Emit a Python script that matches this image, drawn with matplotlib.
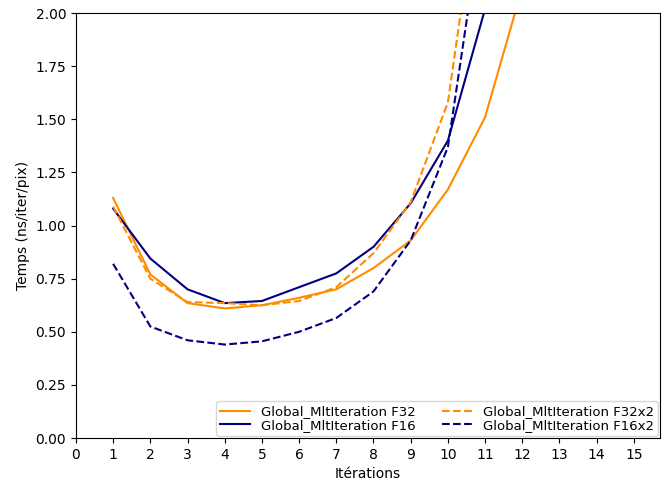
import matplotlib
matplotlib.use("Agg")
import matplotlib.pyplot as plt

iterations = list(range(1, 16))

f32 = [1.13, 0.77, 0.635, 0.61, 0.625, 0.66, 0.70, 0.80, 0.93, 1.17, 1.51, 2.12, 2.9, 4.0, 5.5]
f16 = [1.08, 0.845, 0.70, 0.635, 0.645, 0.71, 0.775, 0.90, 1.105, 1.40, 2.02, 2.9, 4.1, 5.8, 8.0]
f32x2 = [1.09, 0.75, 0.64, 0.635, 0.625, 0.645, 0.71, 0.87, 1.11, 1.58, 2.8, 4.3, 6.2, 8.8, 12.0]
f16x2 = [0.82, 0.525, 0.46, 0.44, 0.455, 0.50, 0.565, 0.69, 0.93, 1.37, 2.55, 3.9, 5.8, 8.3, 11.5]

fig, ax = plt.subplots(figsize=(6.72, 4.87), dpi=100)
fig.subplots_adjust(left=0.113, right=0.982, top=0.973, bottom=0.1006)

ax.plot(iterations, f32, color="darkorange", lw=1.5, label="Global_MltIteration F32")
ax.plot(iterations, f16, color="navy", lw=1.5, label="Global_MltIteration F16")
ax.plot(iterations, f32x2, color="darkorange", lw=1.5, ls="--", label="Global_MltIteration F32x2")
ax.plot(iterations, f16x2, color="navy", lw=1.5, ls="--", label="Global_MltIteration F16x2")

ax.set_ylim(0, 2)
ax.set_xlim(left=0)
ax.set_xticks(range(0, 16))
ax.set_xlabel("Itérations")
ax.set_ylabel("Temps (ns/iter/pix)")
ax.legend(loc="lower right", ncol=2, fontsize=9.5, borderpad=0.3,
          labelspacing=0.05, handlelength=2.3, borderaxespad=0.15,
          columnspacing=2.0)

plt.savefig("out.png")
plt.close()
